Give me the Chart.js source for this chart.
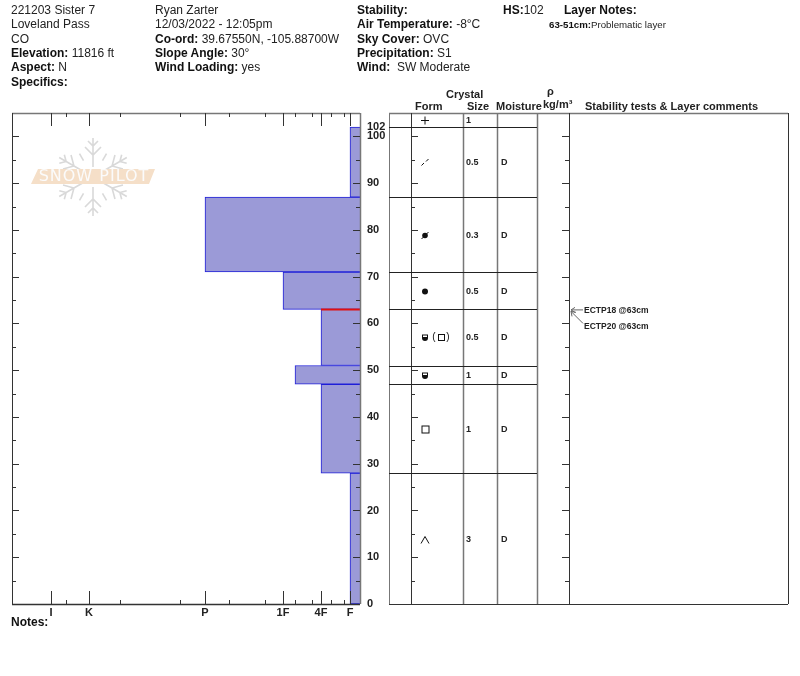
<!DOCTYPE html>
<html>
<head>
<meta charset="utf-8">
<title>221203 Sister 7</title>
<script src="https://cdn.jsdelivr.net/npm/chart.js@4"></script>
<style>
  html, body { margin: 0; background: #fff; }
  #page { position: relative; width: 800px; height: 676px; overflow: hidden; font-family: "Liberation Sans", Arial, sans-serif; color: #222; }
  #page canvas { position: absolute; left: 0; top: 0; }
  .t { position: absolute; font-size: 12px; line-height: 14px; white-space: pre; }
  .t b { color: #111; }
  .small { font-size: 9.7px; }
  .head { font-size: 11px; font-weight: bold; line-height: 12px; }
</style>
</head>
<body>
<div id="page">
  <canvas id="profile" width="800" height="676"></canvas>
  <div class="t" style="left:11px;top:3px">221203 Sister 7</div>
  <div class="t" style="left:11px;top:17px">Loveland Pass</div>
  <div class="t" style="left:11px;top:32px">CO</div>
  <div class="t" style="left:11px;top:46px"><b>Elevation:</b> 11816 ft</div>
  <div class="t" style="left:11px;top:60px"><b>Aspect:</b> N</div>
  <div class="t" style="left:11px;top:75px"><b>Specifics:</b></div>

  <div class="t" style="left:155px;top:3px">Ryan Zarter</div>
  <div class="t" style="left:155px;top:17px">12/03/2022 - 12:05pm</div>
  <div class="t" style="left:155px;top:32px"><b>Co-ord:</b> 39.67550N, -105.88700W</div>
  <div class="t" style="left:155px;top:46px"><b>Slope Angle:</b> 30°</div>
  <div class="t" style="left:155px;top:60px"><b>Wind Loading:</b> yes</div>

  <div class="t" style="left:357px;top:3px"><b>Stability:</b></div>
  <div class="t" style="left:357px;top:17px"><b>Air Temperature:</b> -8°C</div>
  <div class="t" style="left:357px;top:32px"><b>Sky Cover:</b> OVC</div>
  <div class="t" style="left:357px;top:46px"><b>Precipitation:</b> S1</div>
  <div class="t" style="left:357px;top:60px"><b>Wind:</b>  SW Moderate</div>

  <div class="t" style="left:503px;top:3px"><b>HS:</b>102</div>
  <div class="t" style="left:564px;top:3px"><b>Layer Notes:</b></div>
  <div class="t small" style="left:549px;top:18px"><b>63-51cm:</b>Problematic layer</div>

  <div class="t head" style="left:446px;top:88px">Crystal</div>
  <div class="t head" style="left:415px;top:100px">Form</div>
  <div class="t head" style="left:467px;top:100px">Size</div>
  <div class="t head" style="left:496px;top:100px">Moisture</div>
  <div class="t head" style="left:547px;top:85px">ρ</div>
  <div class="t head" style="left:543px;top:98px">kg/m³</div>
  <div class="t head" style="left:585px;top:100px">Stability tests &amp; Layer comments</div>

  <div class="t" style="left:11px;top:615px"><b>Notes:</b></div>
</div>

<script>
// layers from the top of the snowpack down (cm)
const layerTop = [102, 87, 71, 63, 51, 47, 28];
const layerBottom = [87, 71, 63, 51, 47, 28, 0];
const layerHardness = ["F", "P", "1F", "4F", "1F+", "4F", "F"];

// hardness scale, widths measured from the snow surface side of the axis
const hardnessNames = ["F", "4F-", "4F", "4F+", "1F-", "1F", "1F+", "P-", "P", "P+", "K-", "K", "K+", "I-", "I"];
const hardnessValues = [10, 16, 39, 29, 48, 77, 65, 95, 155, 131, 180, 271, 240, 294, 309];
const hardnessLabels = ["I", "K", "P", "1F", "4F", "F"];

const depthTicks = [0, 10, 20, 30, 40, 50, 60, 70, 80, 90, 100, 102];

// table rows, top row first
const rowForm = ["plus", "slash", "slashDot", "dot", "cupSquare", "cup", "square", "caret"];
const rowSize = ["1", "0.5", "0.3", "0.5", "0.5", "1", "1", "3"];
const rowMoisture = ["", "D", "D", "D", "D", "D", "D", "D"];

const testDepth = 63;
const testNames = ["ECTP18 @63cm", "ECTP20 @63cm"];

const hardnessOf = name => hardnessValues[hardnessNames.indexOf(name)];

// horizontal bars cannot take a depth range directly, so each layer is one
// dataset centred on its layer with a thickness taken from the depth scale
const layerDatasets = layerTop.map((top, i) => ({
  type: "bar",
  data: [{x: hardnessOf(layerHardness[i]), y: (top + layerBottom[i]) / 2}],
  backgroundColor: "#9b9ad7",
  borderColor: "#1f1fd8",
  borderWidth: 1,
  grouped: false,
  barThickness: ctx => {
    const y = ctx.chart.scales.y;
    return y ? y.getPixelForValue(layerBottom[i]) - y.getPixelForValue(top) : 1;
  }
}));

// order -1 keeps the failure line on top of the layer outlines
const problemLine = {
  type: "line",
  order: -1,
  data: [{x: hardnessOf("4F"), y: testDepth}, {x: 0, y: testDepth}],
  borderColor: "#e01010",
  borderWidth: 2,
  pointRadius: 0
};

// column edges of the layer table
const col = {left: 389, form: 411, size: 463, moisture: 497, rho: 537, tests: 569, right: 788};

function drawLogo(ctx) {
  ctx.save();
  ctx.strokeStyle = "#d9d9d9";
  ctx.lineWidth = 1.6;
  ctx.translate(93, 177);
  for (let a = 0; a < 6; a++) {
    ctx.save();
    ctx.rotate(a * Math.PI / 3);
    ctx.beginPath();
    ctx.moveTo(0, -10);
    ctx.lineTo(0, -39);
    for (const [d, w] of [[-31, 5], [-22, 8]]) {
      ctx.moveTo(-w, d - w);
      ctx.lineTo(0, d);
      ctx.lineTo(w, d - w);
    }
    ctx.stroke();
    // short strokes between the arms
    ctx.rotate(Math.PI / 6);
    ctx.beginPath();
    ctx.moveTo(0, -19);
    ctx.lineTo(0, -27);
    ctx.stroke();
    ctx.restore();
  }
  ctx.restore();
  ctx.fillStyle = "#f5dfc8";
  ctx.beginPath();
  ctx.moveTo(38, 169);
  ctx.lineTo(155, 169);
  ctx.lineTo(149, 184);
  ctx.lineTo(31, 184);
  ctx.closePath();
  ctx.fill();
  ctx.fillStyle = "#fbfbfb";
  ctx.font = "16px 'DejaVu Sans'";
  ctx.letterSpacing = "1px";
  ctx.textAlign = "center";
  ctx.textBaseline = "middle";
  ctx.fillText("SNOW PILOT", 94, 177);
  ctx.letterSpacing = "0px";
}

function drawForm(ctx, form, x, y) {
  ctx.strokeStyle = "#111";
  ctx.fillStyle = "#111";
  ctx.lineWidth = 1;
  const cup = cx => {
    ctx.strokeRect(cx - 2.5, y - 2.5, 5, 2.5);
    ctx.beginPath();
    ctx.arc(cx, y + 0.5, 3, 0, Math.PI);
    ctx.fill();
  };
  ctx.beginPath();
  if (form === "plus") {
    ctx.moveTo(x - 4, y); ctx.lineTo(x + 4, y);
    ctx.moveTo(x, y - 4); ctx.lineTo(x, y + 4);
    ctx.stroke();
  } else if (form === "slash") {
    ctx.moveTo(x - 3.5, y + 3); ctx.lineTo(x - 1, y + 0.5);
    ctx.moveTo(x + 1, y - 1); ctx.lineTo(x + 3.5, y - 3.5);
    ctx.stroke();
  } else if (form === "slashDot") {
    ctx.moveTo(x - 3.5, y + 3.5); ctx.lineTo(x + 3.5, y - 3.5);
    ctx.stroke();
    ctx.beginPath();
    ctx.arc(x, y, 2.8, 0, Math.PI * 2);
    ctx.fill();
  } else if (form === "dot") {
    ctx.arc(x, y, 3, 0, Math.PI * 2);
    ctx.fill();
  } else if (form === "cup") {
    cup(x);
  } else if (form === "cupSquare") {
    cup(x);
    ctx.strokeRect(x + 13.5, y - 3, 6, 6);
    ctx.font = "10px 'Liberation Sans'";
    ctx.textAlign = "center";
    ctx.textBaseline = "middle";
    ctx.fillText("(", x + 9, y);
    ctx.fillText(")", x + 23, y);
  } else if (form === "square") {
    ctx.strokeRect(x - 3, y - 3.5, 7, 7);
  } else if (form === "caret") {
    ctx.moveTo(x - 4, y + 4); ctx.lineTo(x, y - 3); ctx.lineTo(x + 4, y + 4);
    ctx.stroke();
  }
}

function vLine(ctx, x, y1, y2, color, width) {
  ctx.strokeStyle = color;
  ctx.lineWidth = width;
  ctx.beginPath();
  ctx.moveTo(x + 0.5, y1);
  ctx.lineTo(x + 0.5, y2);
  ctx.stroke();
}

function hLine(ctx, x1, x2, y, color, width) {
  ctx.strokeStyle = color;
  ctx.lineWidth = width;
  ctx.beginPath();
  ctx.moveTo(x1, Math.round(y) + 0.5);
  ctx.lineTo(x2, Math.round(y) + 0.5);
  ctx.stroke();
}

const snowProfile = {
  id: "snowProfile",
  beforeDatasetsDraw(chart) {
    drawLogo(chart.ctx);
  },
  afterDatasetsDraw(chart) {
    const {ctx, chartArea: area, scales: {x, y}} = chart;
    ctx.save();

    // frame of the hardness plot
    hLine(ctx, area.left, area.right, area.top, "#777", 1.5);
    hLine(ctx, area.left, area.right, area.bottom, "#333", 1.5);
    vLine(ctx, area.left, area.top, area.bottom, "#333", 1);
    vLine(ctx, area.right, area.top, area.bottom, "#777", 1.5);

    // hardness ticks point inwards from the top and the bottom
    hardnessValues.forEach((v, i) => {
      const major = hardnessLabels.includes(hardnessNames[i]);
      const px = x.getPixelForValue(v);
      const len = major ? 13 : 4;
      vLine(ctx, px, area.bottom - len, area.bottom, "#333", 1);
      vLine(ctx, px, area.top, area.top + len, "#333", 1);
    });

    // depth ticks every 5 cm on the plot and on the table
    for (let d = 0; d <= 100; d += 5) {
      const py = Math.round(y.getPixelForValue(d)) + 0.5;
      const len = d % 10 === 0 ? 7 : 4;
      for (const [edge, dir] of [[area.left, 1], [area.right, -1], [col.form, 1], [col.tests, -1]]) {
        ctx.strokeStyle = "#333";
        ctx.lineWidth = 1;
        ctx.beginPath();
        ctx.moveTo(edge, py);
        ctx.lineTo(edge + dir * len, py);
        ctx.stroke();
      }
    }

    // layer table
    const tableTop = area.top;
    const tableBottom = area.bottom;
    hLine(ctx, col.left, col.right, tableTop, "#777", 1.5);
    hLine(ctx, col.left, col.right, tableBottom, "#333", 1);
    vLine(ctx, col.left, tableTop, tableBottom, "#777", 1);
    vLine(ctx, col.form, tableTop, tableBottom, "#333", 1);
    vLine(ctx, col.size, tableTop, tableBottom, "#777", 1.5);
    vLine(ctx, col.moisture, tableTop, tableBottom, "#777", 1.5);
    vLine(ctx, col.rho, tableTop, tableBottom, "#777", 1.5);
    vLine(ctx, col.tests, tableTop, tableBottom, "#333", 1);
    vLine(ctx, col.right, tableTop, tableBottom, "#333", 1);
    layerTop.forEach(d => hLine(ctx, col.left, col.rho, y.getPixelForValue(d), "#222", 1));

    // row contents, the first row sits above the snow surface
    rowForm.forEach((form, i) => {
      const upper = i === 0 ? tableTop : y.getPixelForValue(layerTop[i - 1]);
      const lower = i === 0 ? y.getPixelForValue(layerTop[0]) : y.getPixelForValue(layerBottom[i - 1]);
      const mid = Math.round((upper + lower) / 2) + 0.5;
      drawForm(ctx, form, 425, mid);
      ctx.fillStyle = "#222";
      ctx.font = "bold 9px 'Liberation Sans'";
      ctx.textAlign = "left";
      ctx.textBaseline = "middle";
      ctx.fillText(rowSize[i], 466, mid);
      ctx.fillText(rowMoisture[i], 501, mid);
    });

    // stability test labels with leaders to the test depth
    const testY = y.getPixelForValue(testDepth);
    ctx.fillStyle = "#222";
    ctx.font = "bold 8.5px 'Liberation Sans'";
    ctx.textAlign = "left";
    ctx.textBaseline = "middle";
    ctx.fillText(testNames[0], 584, testY + 1);
    ctx.fillText(testNames[1], 584, testY + 17);
    ctx.strokeStyle = "#666";
    ctx.lineWidth = 1;
    ctx.beginPath();
    ctx.moveTo(583, testY + 0.5);
    ctx.lineTo(571, testY + 0.5);
    ctx.moveTo(575, testY - 2);
    ctx.lineTo(571, testY + 0.5);
    ctx.lineTo(575, testY + 3);
    ctx.moveTo(583, testY + 14);
    ctx.lineTo(571, testY + 2);
    ctx.moveTo(576, testY + 3);
    ctx.lineTo(571, testY + 2);
    ctx.lineTo(572, testY + 7);
    ctx.stroke();

    ctx.restore();
  }
};

new Chart("profile", {
  data: {datasets: [...layerDatasets, problemLine]},
  plugins: [snowProfile],
  options: {
    indexAxis: "y",
    responsive: false,
    animation: false,
    layout: {padding: {left: 12, top: 113}},
    plugins: {legend: {display: false}, title: {display: false}, tooltip: {enabled: false}},
    scales: {
      x: {
        type: "linear",
        reverse: true,
        min: 0,
        max: 348,
        grid: {display: false, drawTicks: false},
        border: {display: false},
        afterBuildTicks: axis => {
          axis.ticks = hardnessLabels.map(name => ({value: hardnessOf(name), label: name}));
        },
        afterFit: axis => { axis.height = 72; },
        ticks: {
          autoSkip: false,
          maxRotation: 0,
          padding: 2,
          color: "#222",
          font: {family: "Liberation Sans", size: 11, weight: "bold"},
          callback: v => hardnessNames[hardnessValues.indexOf(v)]
        }
      },
      y: {
        type: "linear",
        position: "right",
        offset: false,
        min: 0,
        max: 105,
        grid: {display: false, drawTicks: false},
        border: {display: false},
        afterBuildTicks: axis => {
          axis.ticks = depthTicks.map(value => ({value}));
        },
        afterFit: axis => { axis.width = 440; },
        ticks: {
          autoSkip: false,
          padding: 7,
          color: "#222",
          font: {family: "Liberation Sans", size: 11, weight: "bold"}
        }
      }
    }
  }
});
</script>
</body>
</html>
